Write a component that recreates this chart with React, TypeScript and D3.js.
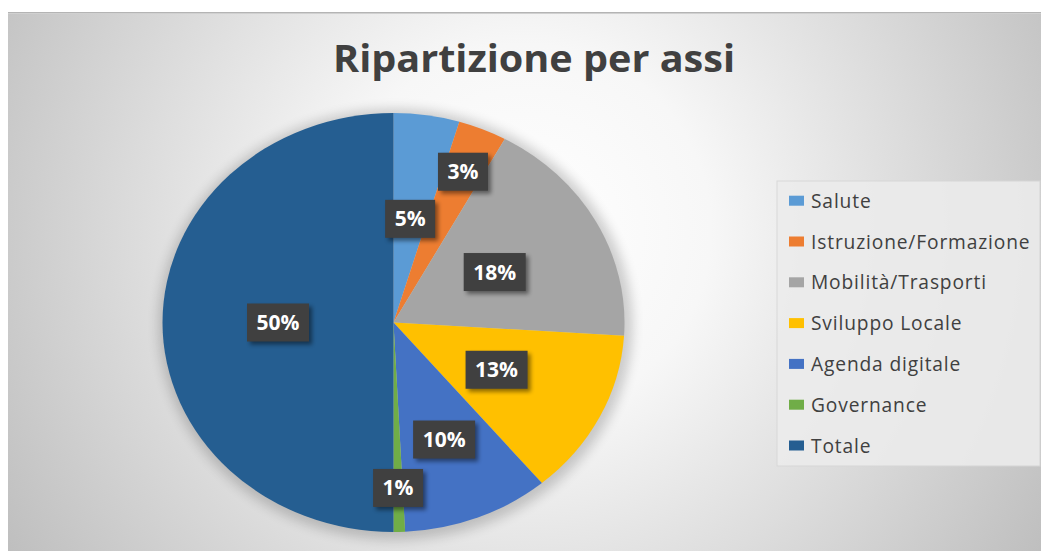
import React from "react";
import * as d3 from "d3";

const categories = [
  "Salute",
  "Istruzione/Formazione",
  "Mobilità/Trasporti",
  "Sviluppo Locale",
  "Agenda digitale",
  "Governance",
  "Totale",
];
const values = [4.6, 3.4, 18.0, 12.9, 10.3, 0.8, 50.0];
const colors = ["#5B9BD5", "#ED7D31", "#A5A5A5", "#FFC000", "#4472C4", "#70AD47", "#255E91"];
const title = "Ripartizione per assi";

const W = 1041;
const H = 551;

// label placement (fraction of radius) per slice, mimicking best-fit labels
const labelRadius = [0.5, 0.78, 0.5, 0.5, 0.6, 0.79, 0.5];

export default function App() {
  const cx = 393.5;
  const cy = 322.5;
  const rx = 231;
  const ry = 209.5;
  const total = d3.sum(values);
  const pie = d3.pie<number>().sort(null).value((d) => d);
  const arcs = pie(values);
  const arc = d3.arc<d3.PieArcDatum<number>>().innerRadius(0).outerRadius(ry);
  const fmt = (v: number) => `${Math.round((v / total) * 100)}%`;

  const legendX = 777;
  const legendY = 181;
  const legendStep = 40.8;

  return (
    <div style={{ position: "absolute", left: 0, top: 0 }}>
      <svg width={W} height={H} style={{ display: "block" }}>
        <defs>
          <radialGradient id="bg" gradientUnits="userSpaceOnUse" cx={525} cy={230} r={620}>
            <stop offset="0" stopColor="#ffffff" />
            <stop offset="0.3" stopColor="#f7f7f7" />
            <stop offset="1" stopColor="#bdbdbd" />
          </radialGradient>
          <filter id="pieShadow" x="-20%" y="-20%" width="140%" height="140%">
            <feGaussianBlur stdDeviation="6" />
          </filter>
          <filter id="boxShadow" x="-30%" y="-30%" width="160%" height="160%">
            <feGaussianBlur stdDeviation="2" />
          </filter>
        </defs>
        <rect x={0} y={0} width={W} height={H} fill="#ffffff" />
        <rect x={8} y={12} width={W - 8} height={H - 12} fill="url(#bg)" />
        <line x1={8} x2={W} y1={12.5} y2={12.5} stroke="#b4b4b4" strokeWidth={1} />
        <line x1={8} x2={W} y1={13.5} y2={13.5} stroke="#d0d0d0" strokeWidth={1} />

        <text
          x={534}
          y={72}
          textAnchor="middle"
          fontFamily="'Open Sans', sans-serif"
          fontWeight={700}
          fontSize={37.5}
          textLength={402}
          lengthAdjust="spacingAndGlyphs"
          fill="#404040"
        >
          {title}
        </text>

        {/* pie shadow */}
        <ellipse cx={cx + 2} cy={cy + 2} rx={rx + 6} ry={ry + 6} fill="#000" opacity={0.18} filter="url(#pieShadow)" />

        <g transform={`translate(${cx},${cy}) scale(${rx / ry},1)`}>
          {arcs.map((a, i) => (
            <path key={categories[i]} d={arc(a) || ""} fill={colors[i]} />
          ))}
        </g>

        {arcs.map((a, i) => {
          const mid = (a.startAngle + a.endAngle) / 2;
          const f = labelRadius[i];
          const x = cx + f * rx * Math.sin(mid);
          const y = cy - f * ry * Math.cos(mid);
          const txt = fmt(values[i]);
          const bw = txt.length === 2 ? 50 : 62;
          const bh = 38;
          return (
            <g key={"l" + i}>
              <rect x={x - bw / 2 + 3} y={y - bh / 2 + 3} width={bw} height={bh} fill="#000" opacity={0.45} filter="url(#boxShadow)" />
              <rect x={x - bw / 2} y={y - bh / 2} width={bw} height={bh} fill="#404040" />
              <text
                x={x}
                y={y + 7.5}
                textAnchor="middle"
                fontFamily="'Open Sans', sans-serif"
                fontWeight={700}
                fontSize={21}
                fill="#ffffff"
              >
                {txt}
              </text>
            </g>
          );
        })}

        {/* legend */}
        <rect x={legendX} y={legendY} width={W - legendX - 1} height={285} fill="#ececec" stroke="#d6d6d6" strokeWidth={1} opacity={0.9} />
        {categories.map((c, i) => {
          const yc = 200.7 + i * legendStep;
          return (
            <g key={"lg" + i}>
              <rect x={789} y={yc - 5} width={15} height={10} fill={colors[i]} />
              <text
                x={811}
                y={yc + 7}
                fontFamily="'Open Sans', sans-serif"
                fontSize={19.2}
                letterSpacing={0.85}
                fill="#404040"
              >
                {c}
              </text>
            </g>
          );
        })}
      </svg>
    </div>
  );
}
